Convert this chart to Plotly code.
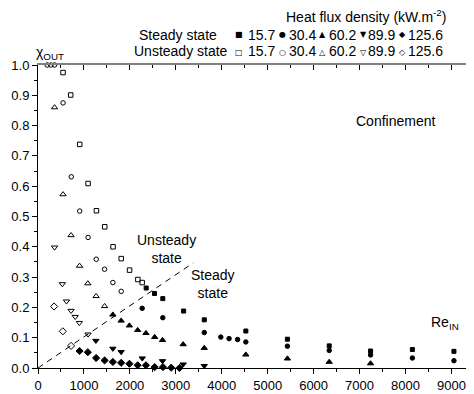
import plotly.graph_objects as go

# ---- data (Re_IN, chi_OUT) ----
sq_open_x = [545, 712, 908, 1090, 1272, 1453, 1634, 1812, 1993, 2174, 2268]
sq_open_y = [0.975, 0.901, 0.738, 0.609, 0.519, 0.466, 0.400, 0.361, 0.323, 0.292, 0.282]
ci_open_x = [200, 280, 360, 545, 725, 908, 1090, 1268, 1449, 1630, 1812]
ci_open_y = [1.0, 1.0, 1.0, 0.875, 0.631, 0.518, 0.431, 0.359, 0.326, 0.282, 0.253]
tu_open_x = [360, 545, 720, 905, 1085, 1265, 1450]
tu_open_y = [0.860, 0.573, 0.438, 0.337, 0.279, 0.237, 0.204]
td_open_x = [360, 530, 620, 720, 810, 900, 1090]
td_open_y = [0.398, 0.277, 0.220, 0.189, 0.169, 0.149, 0.111]
di_open_x = [350, 540, 720]
di_open_y = [0.203, 0.121, 0.073]

sq_fill_x = [2355, 2536, 2717, 3170, 3620, 4525, 5430, 6340, 7240, 8150, 9055]
sq_fill_y = [0.264, 0.246, 0.229, 0.188, 0.159, 0.122, 0.095, 0.073, 0.056, 0.061, 0.055]
ci_fill_x = [2268, 2717, 3620, 3980, 4160, 4345, 4525, 5430, 6340, 7240, 8150, 9055]
ci_fill_y = [0.197, 0.166, 0.117, 0.102, 0.097, 0.094, 0.086, 0.072, 0.058, 0.043, 0.033, 0.024]
tu_fill_x = [1630, 1810, 1990, 2170, 2350, 2540, 2710, 3160, 3620, 4525, 5430, 6340, 7240]
tu_fill_y = [0.176, 0.156, 0.140, 0.125, 0.115, 0.102, 0.092, 0.078, 0.066, 0.044, 0.031, 0.020, 0.015]
td_fill_x = [1260, 1630, 1810, 2270, 2710, 3160, 3620]
td_fill_y = [0.090, 0.064, 0.053, 0.032, 0.023, 0.012, 0.007]
di_fill_x = [905, 1085, 1265, 1450, 1630, 1810, 1990, 2170, 2350, 2540, 2720, 2900, 3080]
di_fill_y = [0.056, 0.052, 0.033, 0.025, 0.020, 0.017, 0.014, 0.009, 0.009, 0.003, 0.003, 0.001, 0.0]

boundary_x = [0, 3380]
boundary_y = [0, 0.347]

flux_labels = ["15.7", "30.4", "60.2", "89.9", "125.6"]
x_ticks = [0, 1000, 2000, 3000, 4000, 5000, 6000, 7000, 8000, 9000]

FONT = "Liberation Sans, Arial, sans-serif"

fig = go.Figure()

def add(x, y, symbol, size=5):
    fig.add_trace(go.Scatter(
        x=x, y=y, mode="markers", showlegend=False, cliponaxis=False,
        marker=dict(symbol=symbol, size=size, color="black",
                    line=dict(color="black", width=1)),
    ))

add(sq_open_x, sq_open_y, "square-open", 4.5)
add(ci_open_x, ci_open_y, "circle-open", 4.5)
add(tu_open_x, tu_open_y, "triangle-up-open", 5.5)
add(td_open_x, td_open_y, "triangle-down-open", 5.5)
add(di_open_x, di_open_y, "diamond-open", 5.5)
add(sq_fill_x, sq_fill_y, "square", 4)
add(ci_fill_x, ci_fill_y, "circle", 4.5)
add(tu_fill_x, tu_fill_y, "triangle-up", 5.5)
add(td_fill_x, td_fill_y, "triangle-down", 5.5)
add(di_fill_x, di_fill_y, "diamond", 5.5)

fig.add_trace(go.Scatter(
    x=boundary_x, y=boundary_y, mode="lines", showlegend=False,
    line=dict(color="black", width=1, dash="6px,5px"),
))
# dummy trace for the mirrored axes
fig.add_trace(go.Scatter(x=[None], y=[None], xaxis="x2", yaxis="y2",
                         showlegend=False, hoverinfo="skip"))

# the page body has an 8px margin; compensate so the picture lines up
OFF = 8
W, H = 474 - OFF, 394 - OFF
L, R, T = 38 - OFF, 1, 65 - OFF
pw = W - L - R
ph = 303
B = H - T - ph

def px(xp):
    return (xp - OFF - L) / pw

def py(yp):
    return 1 - (yp - OFF - T) / ph

ann = []
def text(s, xp, yp, size=14, xanchor="center", family=FONT):
    ann.append(dict(text=s, x=px(xp), y=py(yp), xref="paper", yref="paper",
                    xanchor=xanchor, yanchor="middle", showarrow=False,
                    font=dict(family=family, size=size, color="black")))

text("Heat flux density (kW.m<sup>-2</sup>)", 366, 16)
text("Steady state", 178, 35)
text("Unsteady state", 181, 51)

fill_glyphs = ["■", "●", "▲", "▼", "◆"]
open_glyphs = ["□", "○", "△", "▽", "◇"]
glyph_x = [239, 282, 322, 363, 402]
label_x = [246, 287, 327, 366, 406]
for g, gx in zip(fill_glyphs, glyph_x):
    text(g, gx, 35, size=8, family="DejaVu Sans")
for g, gx in zip(open_glyphs, glyph_x):
    text(g, gx, 52, size=8, family="DejaVu Sans")
for lab, lx in zip(flux_labels, label_x):
    text(lab, lx, 35, xanchor="left")
    text(lab, lx, 51, xanchor="left")

text("χ<sub>OUT</sub>", 50, 53)

fig.update_layout(annotations=ann)
fig.add_annotation(text="Unsteady<br>state", x=2800, y=0.392, showarrow=False,
                   font=dict(family=FONT, size=14, color="black"))
fig.add_annotation(text="Steady<br>state", x=3820, y=0.277, showarrow=False,
                   font=dict(family=FONT, size=14, color="black"))
fig.add_annotation(text="Confinement", x=7790, y=0.816, showarrow=False,
                   font=dict(family=FONT, size=14, color="black"))
fig.add_annotation(text="Re<sub>IN</sub>", x=8870, y=0.15, showarrow=False,
                   font=dict(family=FONT, size=14, color="black"))

xr = [0, 9470]
yr = [0, 1.0]
fig.update_layout(
    width=W, height=H,
    margin=dict(l=L, r=R, t=T, b=B, pad=0, autoexpand=False),
    paper_bgcolor="white", plot_bgcolor="white",
    font=dict(family=FONT, size=13, color="black"),
    xaxis=dict(range=xr, tickvals=x_ticks, ticks="outside", ticklen=5,
               tickcolor="black", showline=True, linecolor="black", linewidth=1,
               showgrid=False, zeroline=False, tickfont=dict(size=13),
               automargin=False,
               minor=dict(dtick=500, tick0=0, ticks="outside", ticklen=3,
                          tickcolor="black", showgrid=False)),
    yaxis=dict(range=yr, dtick=0.1, tick0=0, tickformat=".1f", ticks="outside",
               ticklen=5, tickcolor="black", showline=True, linecolor="black",
               linewidth=1, showgrid=False, zeroline=False, tickfont=dict(size=13),
               automargin=False,
               minor=dict(dtick=0.05, tick0=0, ticks="outside", ticklen=3,
                          tickcolor="black", showgrid=False)),
    xaxis2=dict(range=xr, overlaying="x", side="top", tickvals=x_ticks,
                ticks="inside", ticklen=5, tickcolor="black", showticklabels=False,
                showline=True, linecolor="#808080", linewidth=2, showgrid=False,
                zeroline=False, automargin=False,
                minor=dict(dtick=500, tick0=0, ticks="inside", ticklen=3,
                           tickcolor="black", showgrid=False)),
    yaxis2=dict(range=yr, overlaying="y", side="right", dtick=0.1, tick0=0,
                ticks="inside", ticklen=5, tickcolor="black", showticklabels=False,
                showline=True, linecolor="black", linewidth=1, showgrid=False,
                zeroline=False, automargin=False,
                minor=dict(dtick=0.05, tick0=0, ticks="inside", ticklen=3,
                           tickcolor="black", showgrid=False)),
)

fig.write_html("out.html")
